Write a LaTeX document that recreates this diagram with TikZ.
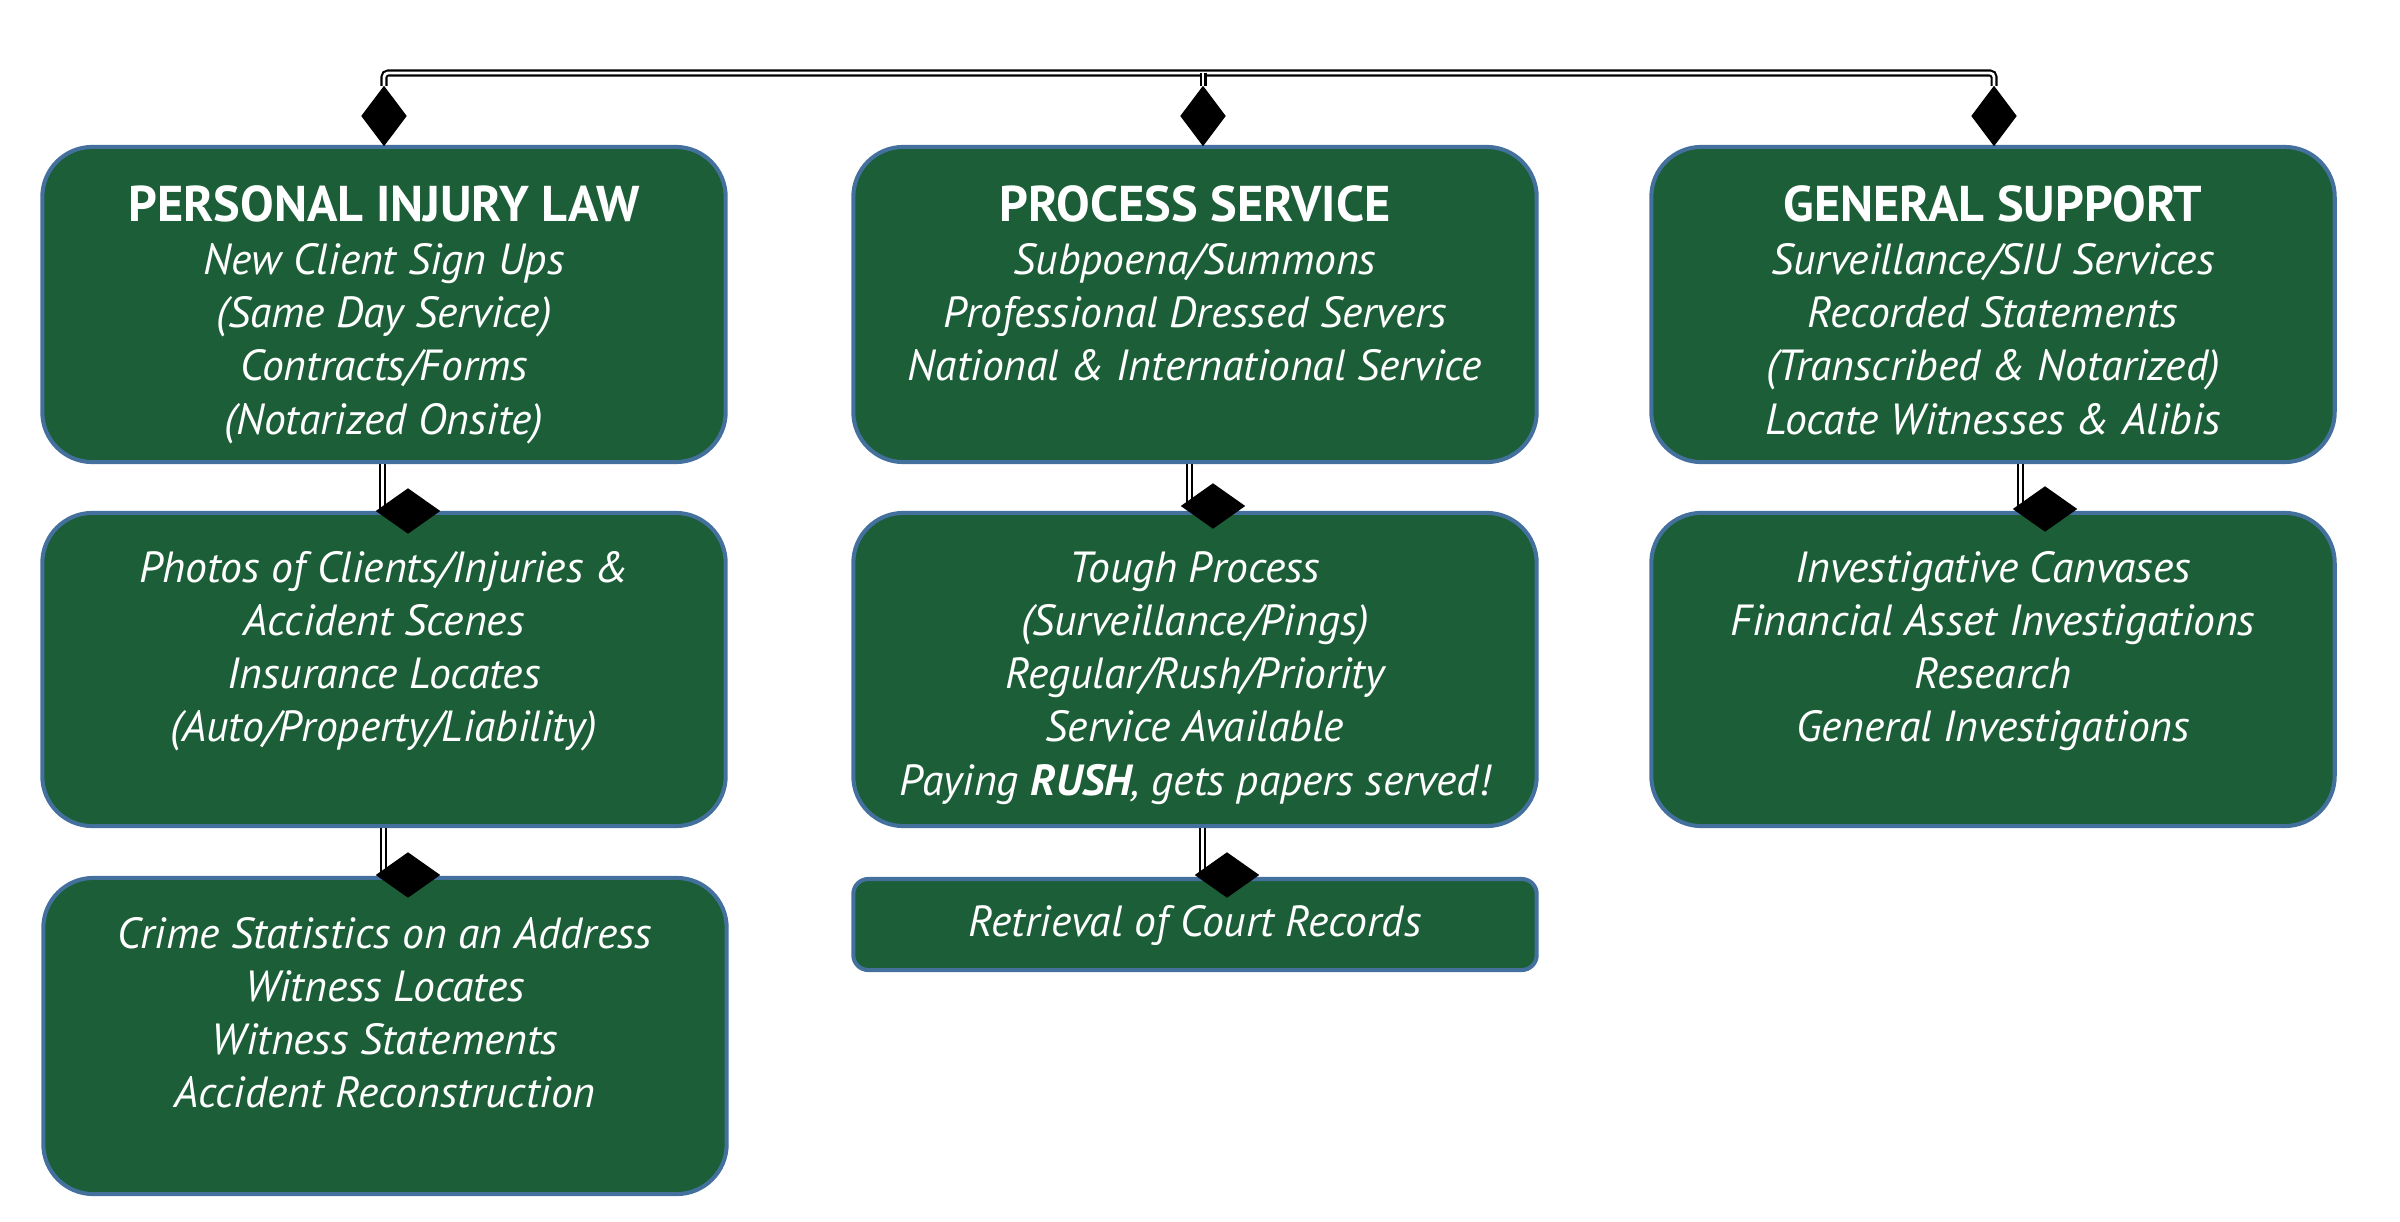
\documentclass[tikz,border=0pt]{standalone}
\usepackage{fontspec}
\setmainfont{PT Sans}
\usetikzlibrary{shapes.geometric}
\definecolor{boxgreen}{RGB}{28,94,55}
\definecolor{boxedge}{RGB}{68,112,158}
\newcommand\fstrut{\rule{0pt}{12pt}}
\newcommand\ttl[1]{{\bfseries\upshape\fontsize{14.3}{15.1}\selectfont #1}}
\tikzset{
  box/.style={draw=boxedge, line width=1.15pt, fill=boxgreen, rounded corners=0.5cm,
    minimum width=6.83cm, minimum height=3.15cm, inner sep=0pt},
  txt/.style={text=white, align=center, anchor=north, inner sep=0pt,
    font=\fontsize{12.4}{15.1}\selectfont\itshape},
  dbl/.style={draw=black, line width=0.6pt, double=white, double distance=0.8pt},
  tdia/.style={diamond, fill=black, draw=none, inner sep=0pt, minimum width=0.44cm, minimum height=0.59cm},
  ldia/.style={diamond, fill=black, draw=none, inner sep=0pt, minimum width=0.63cm, minimum height=0.44cm}
}
\begin{document}
\begin{tikzpicture}[x=0.01cm,y=-0.01cm]
\useasboundingbox (0,0) rectangle (2400,1221);
% boxes
\node[box] (b1) at (384,304.5) {};
\node[box] (b2) at (1195,304.5) {};
\node[box] (b3) at (1993,304.5) {};
\node[box, minimum height=3.13cm] (c1) at (384,669.5) {};
\node[box, minimum height=3.13cm] (c2) at (1195,669.5) {};
\node[box, minimum height=3.13cm] (c3) at (1993,669.5) {};
\node[box, minimum height=3.16cm] (d1) at (385,1036) {};
\node[box, rounded corners=0.15cm, minimum height=0.91cm] (d2) at (1195,924.5) {};
% texts
\node[txt] (tb1) at ([yshift=-0.338cm]b1.north) {\fstrut\ttl{PERSONAL INJURY LAW}\\New Client Sign Ups\\(Same Day Service)\\Contracts/Forms\\(Notarized Onsite)};
\node[txt] (tb2) at ([yshift=-0.338cm]b2.north) {\fstrut\ttl{PROCESS SERVICE}\\Subpoena/Summons\\Professional Dressed Servers\\National \& International Service};
\node[txt] (tb3) at ([yshift=-0.338cm]b3.north) {\fstrut\ttl{GENERAL SUPPORT}\\Surveillance/SIU Services\\Recorded Statements\\(Transcribed \& Notarized)\\Locate Witnesses \& Alibis};
\node[txt] (tc1) at ([yshift=-0.288cm]c1.north) {\fstrut Photos of Clients/Injuries \&\\Accident Scenes\\Insurance Locates\\(Auto/Property/Liability)};
\node[txt] (tc2) at ([yshift=-0.288cm]c2.north) {\fstrut Tough Process\\(Surveillance/Pings)\\Regular/Rush/Priority\\Service Available\\Paying \textbf{RUSH}, gets papers served!};
\node[txt] (tc3) at ([yshift=-0.288cm]c3.north) {\fstrut Investigative Canvases\\Financial Asset Investigations\\Research\\General Investigations};
\node[txt] (td1) at ([yshift=-0.298cm]d1.north) {\fstrut Crime Statistics on an Address\\Witness Locates\\Witness Statements\\Accident Reconstruction};
\node[txt] (td2) at ([yshift=-0.168cm]d2.north) {\fstrut Retrieval of Court Records};
% diamonds
\node[tdia] (dt1) at (384,116) {};
\node[tdia] (dt2) at (1203,116) {};
\node[tdia] (dt3) at (1994,116) {};
\node[ldia] (dc1) at (408,511) {};
\node[ldia] (dc2) at (1213,506) {};
\node[ldia] (dc3) at (2045,509) {};
\node[ldia] (dd1) at (408,875) {};
\node[ldia] (dd2) at (1227,875) {};
% top bus
\coordinate (bus) at (1203,73);
\draw[dbl, rounded corners=0.04cm] (dt1.north) |- (bus) -| (dt3.north);
\draw[dbl] (dt2.north) -- (dt2.north |- bus);
% lower connectors
\draw[dbl] ([xshift=0.07cm]dc1.west |- b1.south) -- ([xshift=0.07cm]dc1.west);
\draw[dbl] ([xshift=0.09cm]dc2.west |- b2.south) -- ([xshift=0.09cm]dc2.west);
\draw[dbl] ([xshift=0.08cm]dc3.west |- b3.south) -- ([xshift=0.08cm]dc3.west);
\draw[dbl] ([xshift=0.08cm]dd1.west |- c1.south) -- ([xshift=0.08cm]dd1.west);
\draw[dbl] ([xshift=0.08cm]dd2.west |- c2.south) -- ([xshift=0.08cm]dd2.west);
% diamonds on top of connectors
\foreach \d in {dt1,dt2,dt3,dc1,dc2,dc3,dd1,dd2}{\fill[black] (\d.north) -- (\d.east) -- (\d.south) -- (\d.west) -- cycle;}
\end{tikzpicture}
\end{document}
